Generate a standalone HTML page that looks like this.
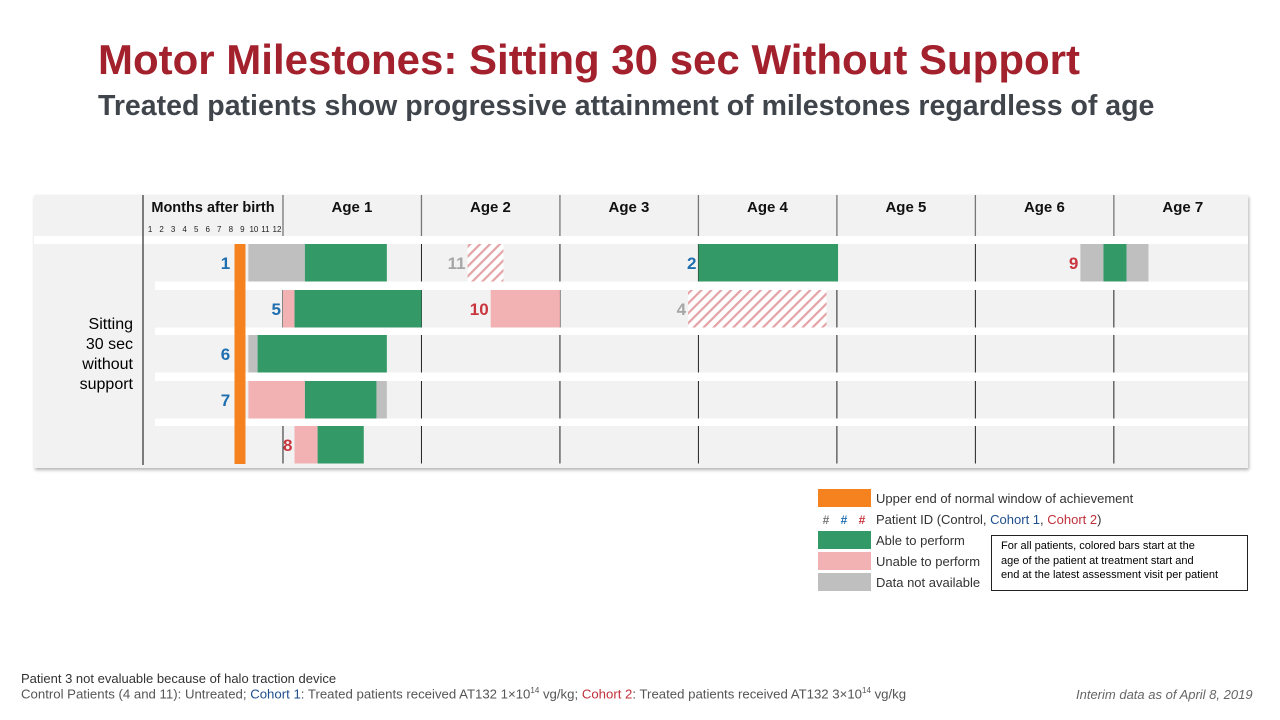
<!DOCTYPE html>
<html><head><meta charset="utf-8"><style>
body{margin:0;width:1280px;height:720px;background:#fff;font-family:"Liberation Sans",sans-serif;overflow:hidden;position:relative}
.t{position:absolute;white-space:nowrap}
</style></head><body>
<div class="t" style="left:98px;top:36px;font-size:42px;font-weight:bold;color:#A3202D">Motor Milestones: Sitting 30 sec Without Support</div>
<div class="t" style="left:98px;top:90px;font-size:28.5px;font-weight:bold;color:#3f454b">Treated patients show progressive attainment of milestones regardless of age</div>
<svg id="chart" width="1280" height="720" style="position:absolute;left:0;top:0">
<defs><pattern id="hatch" patternUnits="userSpaceOnUse" width="7" height="7" patternTransform="rotate(45)"><rect width="7" height="7" fill="#fff"/><rect width="2.2" height="7" fill="#e3a3a6"/></pattern>
<filter id="sh"><feDropShadow dx="1" dy="2" stdDeviation="1.5" flood-opacity="0.3"/></filter></defs>
<g id="base"></g><g id="bars"></g><g id="labels"></g>
</svg>
<div class="t" style="left:991px;top:535px;width:246px;height:51px;border:1px solid #222;font-size:11px;line-height:14.5px;padding:3px 0 0 9px;color:#000;white-space:normal"><div>For all patients, colored bars start at the</div><div>age of the patient at treatment start and</div><div>end at the latest assessment visit per patient</div></div>
<div class="t" style="left:21px;top:671px;font-size:13px;color:#333">Patient 3 not evaluable because of halo traction device</div>
<div class="t" style="left:21px;top:686px;font-size:13.2px;color:#555">Control Patients (4 and 11): Untreated; <span style="color:#1f4e8c">Cohort 1</span>: Treated patients received AT132 1×10<sup style="font-size:8px">14</sup> vg/kg; <span style="color:#c0303a">Cohort 2</span>: Treated patients received AT132 3×10<sup style="font-size:8px">14</sup> vg/kg</div>
<div class="t" style="left:1076px;top:687px;font-size:13px;font-style:italic;color:#666">Interim data as of April 8, 2019</div>
<script>
const ages=["Age 1","Age 2","Age 3","Age 4","Age 5","Age 6","Age 7"];
const monthTicks=[1,2,3,4,5,6,7,8,9,10,11,12];
const segRows=[0,0,0,0,0,0,0, 1,1,1,1, 2,2, 3,3,3, 4,4];
const segStart=[9,13.9,28,48,81.1,83.1,85.1, 12,13,30,47.1, 9,9.8, 9,13.9,20.1, 13,15];
const segEnd=[13.9,21,31.1,60.1,83.1,85.1,87, 13,24,36,59.1, 9.8,21, 13.9,20.1,21, 15,19];
const segType=["na","able","hatch","able","na","able","na","unable","able","unable","hatch","na","able","unable","able","na","unable","able"];
const pids=["1","11","2","9","5","10","4","6","7","8"];
const pidRow=[0,0,0,0,1,1,1,2,3,4];
const pidMonth=[7.6,28,48,81.1,12,30,47.1,7.6,7.6,13];
const pidGroup=["c1","ctrl","c1","c2","c1","c2","ctrl","c1","c1","c2"];
const normalWindow=[7.8,8.75];

const NS="http://www.w3.org/2000/svg";
const x=m=>144.5+m*11.54;
const rowTop=[244,290,335,381,426], rowH=37.5;
function mk(g,tag,at,txt){const e=document.createElementNS(NS,tag);for(const k in at)e.setAttribute(k,at[k]);if(txt!==undefined)e.textContent=txt;document.getElementById(g).appendChild(e);return e;}
const fill={able:"#339966",unable:"#f2b1b3",na:"#bfbfbf",hatch:"url(#hatch)"};
const col={c1:"#1f6fb0",c2:"#c9363e",ctrl:"#a6a6a6"};
let e=mk("base","rect",{x:34,y:195,width:1214,height:273,fill:"#f2f2f2",filter:"url(#sh)"});

mk("base","rect",{x:34,y:236,width:1214,height:8,fill:"#fff"});
for(let i=0;i<4;i++){mk("base","rect",{x:155,y:rowTop[i]+rowH,width:1093,height:rowTop[i+1]-rowTop[i]-rowH,fill:"#fff"});}
mk("base","line",{x1:143,y1:195,x2:143,y2:465,stroke:"#555","stroke-width":1.5});
ages.forEach((a,i)=>{const xs=x(12*(i+1));
 mk("base","line",{x1:xs,y1:195,x2:xs,y2:236,stroke:"#777","stroke-width":1.3});
 let t=mk("labels","text",{x:x(12*(i+1))+69,y:212,"text-anchor":"middle","font-size":15,"font-weight":"bold",fill:"#111"},a);
 
});
for(let i=0;i<7;i++){const xs=x(12*(i+1));for(let r=0;r<5;r++)mk("base","line",{x1:xs,y1:rowTop[r],x2:xs,y2:rowTop[r]+rowH,stroke:"#222","stroke-width":1});}
let h=mk("labels","text",{x:213,y:212,"text-anchor":"middle","font-size":14.5,"font-weight":"bold",fill:"#111"},"Months after birth");

monthTicks.forEach(m=>{let t=mk("labels","text",{x:x(m)-6,y:232,"text-anchor":"middle","font-size":8,fill:"#222"},String(m));
 });
["Sitting","30 sec","without","support"].forEach((s,i)=>{let t=mk("labels","text",{x:133,y:329+i*20,"text-anchor":"end","font-size":16,fill:"#000"},s);
 });
let o=mk("bars","rect",{x:x(normalWindow[0]),y:244,width:x(normalWindow[1])-x(normalWindow[0]),height:220,fill:"#f5821f"});

segRows.forEach((r,i)=>{
 let b=mk("bars","rect",{x:x(segStart[i]),y:rowTop[r],width:x(segEnd[i])-x(segStart[i]),height:rowH,fill:fill[segType[i]]});
 });
pids.forEach((p,i)=>{let t=mk("labels","text",{x:x(pidMonth[i])-2,y:rowTop[pidRow[i]]+rowH/2+6,"text-anchor":"end","font-size":17,"font-weight":"bold",fill:col[pidGroup[i]]},p);
 });
const legC=["#f5821f",null,"#339966","#f2b1b3","#bfbfbf"];
const legT=["Upper end of normal window of achievement","","Able to perform","Unable to perform","Data not available"];
legC.forEach((c,i)=>{const y=489+i*21;
 if(c){let r=mk("labels","rect",{x:818,y:y,width:53,height:18,fill:c});}
 if(legT[i]){let t=mk("labels","text",{x:876,y:y+14,"font-size":13,fill:"#333"},legT[i]);}
});
[["#","#777",826],["#","#1f6fb0",844],["#","#c9363e",862]].forEach(a=>{mk("labels","text",{x:a[2],y:524,"text-anchor":"middle","font-size":12,"font-weight":"bold",fill:a[1]},a[0]);});
let pt=mk("labels","text",{x:876,y:524,"font-size":13,fill:"#333"});

pt.innerHTML='Patient ID (Control, <tspan fill="#1f4e8c">Cohort 1</tspan>, <tspan fill="#c0303a">Cohort 2</tspan>)';
</script>
</body></html>
